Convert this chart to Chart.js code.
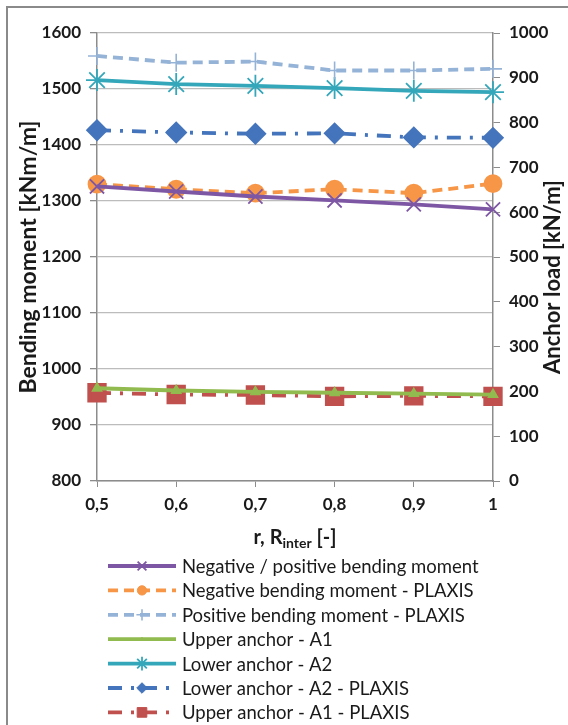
<!DOCTYPE html>
<html>
<head>
<meta charset="utf-8">
<script src="https://cdn.jsdelivr.net/npm/chart.js@4.4.1/dist/chart.umd.min.js"></script>
<style>
  html, body { margin: 0; padding: 0; background: #fff; }
  #wrap { width: 568px; height: 725px; position: relative; }
</style>
</head>
<body>
<div id="wrap"><canvas id="chart" width="568" height="725"></canvas></div>
<script>
// r, R_inter values on the x axis
const x_labels = ['0,5', '0,6', '0,7', '0,8', '0,9', '1'];

// bending moments [kNm/m], left axis
const neg_pos_moment = [1326, 1317, 1308, 1301, 1294, 1285];
const neg_moment_plaxis = [1330, 1321, 1314, 1321, 1314, 1331];
const pos_moment_plaxis = [1559, 1547, 1549, 1533, 1533, 1536];

// anchor loads [kN/m], right axis
const upper_a1 = [207, 202, 199, 197, 195, 193];
const lower_a2 = [895, 886, 882, 877, 871, 868];
const lower_a2_plaxis = [783, 778, 775, 776, 767, 766];
const upper_a1_plaxis = [197, 193, 192, 189, 190, 189];

const series_names = [
  'Negative / positive bending moment',
  'Negative bending moment - PLAXIS',
  'Positive bending moment - PLAXIS',
  'Upper anchor - A1',
  'Lower anchor - A2',
  'Lower anchor - A2 - PLAXIS',
  'Upper anchor - A1 - PLAXIS'
];

const left_ticks = { min: 800, max: 1600, step: 100 };
const right_ticks = { min: 0, max: 1000, step: 100 };

Chart.defaults.font.family = 'Lato, "DejaVu Sans", sans-serif';
Chart.defaults.color = '#1a1a1a';

const AXIS_GREY = '#8c8c8c';
const dash = [10, 6];
const dash_dot = [14, 9, 3, 9];

function line_set(label, data, axis, color, opts) {
  return Object.assign({
    label: label,
    data: data,
    yAxisID: axis,
    borderColor: color,
    backgroundColor: color,
    pointBackgroundColor: color,
    pointBorderColor: color,
    borderWidth: 3.8,
    tension: 0,
    fill: false
  }, opts);
}

const datasets = [
  line_set(series_names[0], neg_pos_moment, 'y', '#7E57A4',
    { pointStyle: 'crossRot', pointRadius: 10, pointBorderWidth: 1.8 }),
  line_set(series_names[1], neg_moment_plaxis, 'y', '#F79646',
    { borderDash: dash, pointStyle: 'circle', pointRadius: 7.5 }),
  line_set(series_names[2], pos_moment_plaxis, 'y', '#95B3D7',
    { borderDash: dash, pointStyle: 'cross', pointRadius: 9, pointBorderWidth: 1.6 }),
  line_set(series_names[3], upper_a1, 'y1', '#92BB4F',
    { pointStyle: 'triangle', pointRadius: 3 }),
  line_set(series_names[4], lower_a2, 'y1', '#34A7BA',
    { pointStyle: 'star', pointRadius: 11, pointBorderWidth: 1.8 }),
  line_set(series_names[5], lower_a2_plaxis, 'y1', '#4474BB',
    { borderDash: dash_dot, pointStyle: 'rectRot', pointRadius: 8.5 }),
  line_set(series_names[6], upper_a1_plaxis, 'y1', '#C0504D',
    { borderDash: dash_dot, pointStyle: 'rect', pointRadius: 11 })
];

// frame, axis titles and the single-column legend
const decorations = {
  id: 'decorations',
  beforeDraw(chart) {
    const ctx = chart.ctx;
    ctx.save();
    ctx.fillStyle = '#fff';
    ctx.fillRect(0, 0, chart.width, chart.height);
    ctx.strokeStyle = '#8a8a8a';
    ctx.lineWidth = 2;
    ctx.beginPath();
    ctx.moveTo(7, chart.height);
    ctx.lineTo(7, 7);
    ctx.lineTo(chart.width, 7);
    ctx.stroke();
    ctx.restore();
  },
  afterDraw(chart) {
    const ctx = chart.ctx;
    const area = chart.chartArea;
    ctx.save();
    ctx.fillStyle = '#1a1a1a';
    ctx.textAlign = 'center';
    ctx.textBaseline = 'middle';

    ctx.save();
    ctx.font = 'bold 23px Lato, sans-serif';
    ctx.translate(29, 257);
    ctx.rotate(-Math.PI / 2);
    ctx.fillText('Bending moment [kNm/m]', 0, 0);
    ctx.restore();

    ctx.save();
    ctx.font = 'bold 22px Lato, sans-serif';
    ctx.translate(553, 277);
    ctx.rotate(-Math.PI / 2);
    ctx.fillText('Anchor load [kN/m]', 0, 0);
    ctx.restore();

    // x title with subscript
    const big = 'bold 20px Lato, sans-serif';
    const small = 'bold 14px Lato, sans-serif';
    const parts = [['r, R', big, 0], ['inter', small, 5], [' [-]', big, 0]];
    let total = 0;
    for (const p of parts) { ctx.font = p[1]; total += ctx.measureText(p[0]).width; }
    let x = (area.left + area.right) / 2 - total / 2;
    ctx.textAlign = 'left';
    for (const p of parts) {
      ctx.font = p[1];
      ctx.fillText(p[0], x, 538 + p[2]);
      x += ctx.measureText(p[0]).width;
    }

    // legend
    ctx.font = '18.5px Lato, sans-serif';
    chart.data.datasets.forEach((ds, i) => {
      const y = 566 + i * 24.4;
      ctx.save();
      ctx.strokeStyle = ds.borderColor;
      ctx.lineWidth = 3.8;
      ctx.setLineDash(ds.borderDash || []);
      ctx.beginPath();
      ctx.moveTo(108, y);
      ctx.lineTo(176, y);
      ctx.stroke();
      ctx.setLineDash([]);
      ctx.fillStyle = ds.pointBackgroundColor;
      ctx.strokeStyle = ds.pointBorderColor;
      ctx.lineWidth = ds.pointBorderWidth || 1;
      Chart.helpers.drawPoint(ctx, {
        pointStyle: ds.pointStyle,
        radius: ds.pointRadius * 0.62,
        rotation: 0,
        borderWidth: ds.pointBorderWidth || 1
      }, 142, y);
      ctx.restore();
      ctx.fillStyle = '#1a1a1a';
      ctx.textBaseline = 'middle';
      ctx.fillText(ds.label, 182, y + 1);
    });
    ctx.restore();
  }
};

const tick_font = { size: 17, weight: 'bold' };
const plain = (v) => String(v);

new Chart(document.getElementById('chart'), {
  type: 'line',
  data: { labels: x_labels, datasets: datasets },
  options: {
    responsive: false,
    animation: false,
    layout: { padding: { top: 33, left: 0, right: 0, bottom: 0 } },
    plugins: {
      legend: { display: false },
      tooltip: { enabled: false }
    },
    scales: {
      x: {
        offset: false,
        grid: { drawOnChartArea: false, tickLength: 6, color: AXIS_GREY },
        border: { color: AXIS_GREY, width: 1.5 },
        ticks: { font: tick_font, padding: 7, autoSkip: false, maxRotation: 0 },
        afterFit(scale) { scale.height = 244; }
      },
      y: {
        position: 'left',
        min: left_ticks.min,
        max: left_ticks.max,
        ticks: { stepSize: left_ticks.step, font: tick_font, padding: 9, callback: plain },
        grid: { color: '#bcbcbc', lineWidth: 1.3, tickLength: 7, tickColor: AXIS_GREY },
        border: { color: AXIS_GREY, width: 1.5 },
        afterFit(scale) { scale.width = 97; }
      },
      y1: {
        position: 'right',
        min: right_ticks.min,
        max: right_ticks.max,
        ticks: { stepSize: right_ticks.step, font: tick_font, padding: 9, callback: plain },
        grid: { drawOnChartArea: false, tickLength: 7, color: AXIS_GREY },
        border: { color: AXIS_GREY, width: 1.5 },
        afterFit(scale) { scale.width = 75; }
      }
    }
  },
  plugins: [decorations]
});
</script>
</body>
</html>
